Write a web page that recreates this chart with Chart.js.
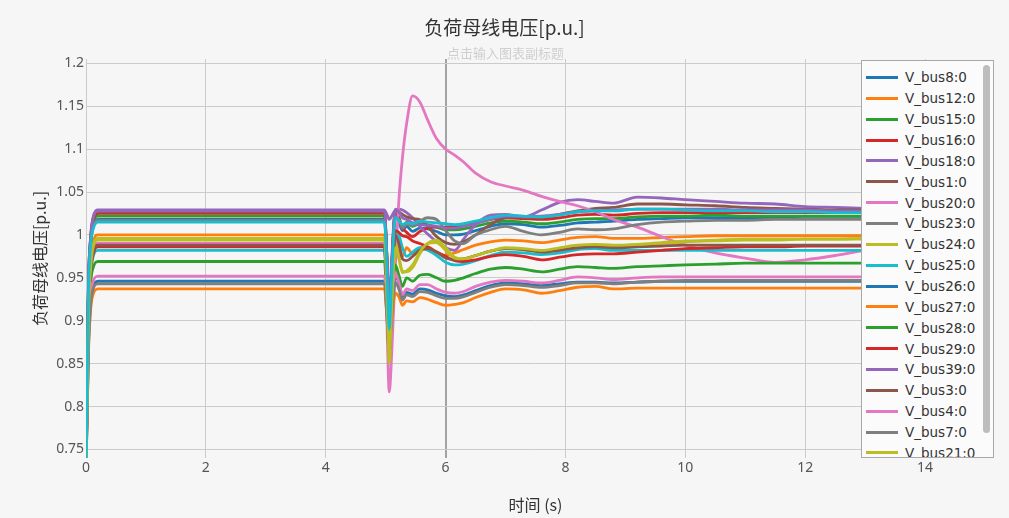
<!DOCTYPE html>
<html><head><meta charset="utf-8">
<script src="https://cdn.jsdelivr.net/npm/chart.js@4/dist/chart.umd.min.js"></script>
<style>
html,body{margin:0;padding:0;background:#f6f6f6;}
#wrap{position:relative;width:1009px;height:518px;overflow:hidden;background:#f6f6f6;}
#c{position:absolute;left:0;top:0;}
#title{position:absolute;left:0;top:15px;width:1009px;text-align:center;font:19px "Noto Sans CJK SC",sans-serif;line-height:24px;color:#333;}
#subtitle{position:absolute;left:0;top:45px;width:1011px;text-align:center;font:13px "Noto Sans CJK SC",sans-serif;line-height:16px;color:#cfcfcf;}
#legend{position:absolute;left:861px;top:60px;width:131px;height:396px;border:1px solid #a8a8a8;background:#fbfbfb;overflow:hidden;}
#legItems{position:absolute;left:0;top:6px;width:120px;}
.li{height:20.87px;display:flex;align-items:center;white-space:nowrap;}
.sw{width:32px;height:3px;margin-left:4px;margin-right:7px;flex:none;}
.tx{font:13.5px "DejaVu Sans",sans-serif;color:#333;}
#thumb{position:absolute;left:121px;top:4px;width:7px;height:368px;border-radius:4px;background:#bdbdbd;}
</style></head>
<body><div id="wrap">
<canvas id="c" width="1009" height="518"></canvas>
<div id="title">负荷母线电压[p.u.]</div>
<div id="subtitle">点击输入图表副标题</div>
<div id="legend"><div id="legItems"></div><div id="thumb"></div></div>
</div>
<script>
const chartTitle = "负荷母线电压[p.u.]";
const xTitle = "时间 (s)";
const yTitle = "负荷母线电压[p.u.]";
const xTicks = [0, 2, 4, 6, 8, 10, 12, 14];
const xTickLabels = ["0", "2", "4", "6", "8", "10", "12", "14"];
const yTicks = [0.75, 0.8, 0.85, 0.9, 0.95, 1, 1.05, 1.1, 1.15, 1.2];
const yTickLabels = ["0.75", "0.8", "0.85", "0.9", "0.95", "1", "1.05", "1.1", "1.15", "1.2"];

const times = [0,0.04,0.08,0.12,0.2,1,2,3,4,4.98,5.02,5.06,5.1,5.16,5.22,5.28,5.35,5.45,5.57,5.7,5.85,6.0,6.15,6.3,6.5,6.75,7.0,7.3,7.6,7.9,8.2,8.5,8.8,9.2,9.6,10,10.5,11,11.5,12,12.5,13,14,15];

const seriesNames = ["V_bus8:0","V_bus12:0","V_bus15:0","V_bus16:0","V_bus18:0","V_bus1:0","V_bus20:0","V_bus23:0","V_bus24:0","V_bus25:0","V_bus26:0","V_bus27:0","V_bus28:0","V_bus29:0","V_bus39:0","V_bus3:0","V_bus4:0","V_bus7:0","V_bus21:0","V_bus22:0"];
const seriesColors = ["#1f77b4","#ff7f0e","#2ca02c","#d62728","#9467bd","#8c564b","#e377c2","#7f7f7f","#bcbd22","#17becf","#1f77b4","#ff7f0e","#2ca02c","#d62728","#9467bd","#8c564b","#e377c2","#7f7f7f","#bcbd22","#17becf"];

const v_bus8  = [0.72,0.93,0.99,1.010,1.018, 1.018,1.018,1.018,1.018,1.018, 0.97,0.90,0.96,1.022,1.015,1.005,1.010,1.004,1.008,1.007, 1.004,1.000,1.000,1.001,1.005,1.010,1.013,1.012,1.009,1.011, 1.014,1.015,1.016,1.018,1.019,1.020,1.020,1.020,1.020,1.019, 1.019,1.019,1.018,1.018];
const v_bus12 = [0.72,0.91,0.97,0.992,1.0, 1.0,1.0,1.0,1.0,1.0, 0.95,0.88,0.94,1.0,0.99,0.975,0.985,0.978,0.985,0.986, 0.98,0.976,0.979,0.983,0.988,0.992,0.994,0.993,0.991,0.994, 0.997,0.998,0.996,0.996,0.997,0.998,0.999,0.999,0.999,0.999, 0.999,0.999,0.999,0.999];
const v_bus15 = [0.72,0.93,0.99,1.014,1.022, 1.022,1.022,1.022,1.022,1.022, 0.975,0.91,0.965,1.025,1.02,1.01,1.015,1.01,1.013,1.012, 1.009,1.006,1.006,1.007,1.01,1.014,1.016,1.015,1.013,1.015, 1.018,1.019,1.019,1.021,1.022,1.022,1.023,1.022,1.022,1.022, 1.022,1.022,1.022,1.022];
const v_bus16 = [0.72,0.935,0.995,1.017,1.025, 1.025,1.025,1.025,1.025,1.025, 0.975,0.90,0.96,1.025,1.02,1.008,1.003,0.998,1.004,1.008, 1.009,1.009,1.010,1.011,1.014,1.018,1.020,1.019,1.018,1.020, 1.023,1.024,1.023,1.025,1.026,1.026,1.026,1.026,1.026,1.026, 1.026,1.026,1.025,1.025];
const v_bus18 = [0.72,0.94,1.0,1.021,1.029, 1.029,1.029,1.029,1.029,1.029, 1.024,1.018,1.022,1.029,1.030,1.029,1.026,1.020,1.010,1.001, 0.992,0.985,0.982,0.995,1.012,1.023,1.024,1.021,1.029,1.038, 1.041,1.039,1.037,1.044,1.043,1.041,1.039,1.037,1.036,1.033, 1.032,1.031,1.030,1.029];
const v_bus1  = [0.72,0.94,0.998,1.019,1.027, 1.027,1.027,1.027,1.027,1.027, 0.975,0.89,0.96,1.028,1.027,1.024,1.021,1.019,1.018,1.010, 0.998,0.991,0.989,0.992,1.0,1.012,1.02,1.021,1.020,1.024, 1.028,1.031,1.032,1.036,1.036,1.035,1.034,1.032,1.031,1.030, 1.029,1.029,1.028,1.027];
const v_bus20 = [0.72,0.90,0.96,0.982,0.99, 0.99,0.99,0.99,0.99,0.99, 0.90,0.817,0.86,0.96,1.04,1.09,1.13,1.162,1.155,1.134, 1.112,1.100,1.093,1.085,1.072,1.062,1.057,1.052,1.045,1.039, 1.034,1.027,1.018,1.009,0.998,0.988,0.979,0.973,0.968,0.971, 0.976,0.982,0.988,0.99];
const v_bus23 = [0.72,0.93,0.99,1.009,1.017, 1.017,1.017,1.017,1.017,1.017, 0.97,0.90,0.955,1.02,1.018,1.008,1.012,1.011,1.016,1.020, 1.018,1.005,0.993,0.99,1.0,1.006,1.01,1.004,1.0,1.003, 1.007,1.006,1.007,1.012,1.015,1.016,1.017,1.017,1.018,1.018, 1.018,1.018,1.017,1.017];
const v_bus24 = [0.72,0.905,0.965,0.988,0.996, 0.996,0.996,0.996,0.996,0.996, 0.93,0.85,0.91,0.99,0.975,0.958,0.957,0.962,0.978,0.99, 0.994,0.985,0.974,0.972,0.976,0.981,0.984,0.983,0.980,0.983, 0.987,0.988,0.985,0.987,0.99,0.992,0.993,0.994,0.994,0.995, 0.995,0.996,0.996,0.996];
const v_bus25 = [0.72,0.895,0.955,0.975,0.982, 0.982,0.982,0.982,0.982,0.982, 0.93,0.88,0.93,1.005,1.0,0.985,0.975,0.98,0.985,0.982, 0.976,0.968,0.965,0.966,0.97,0.976,0.98,0.979,0.977,0.979, 0.983,0.984,0.982,0.982,0.982,0.982,0.982,0.982,0.982,0.982, 0.982,0.982,0.982,0.982];
const v_bus26 = [0.72,0.87,0.925,0.94,0.946, 0.946,0.946,0.946,0.946,0.946, 0.91,0.875,0.91,0.95,0.945,0.928,0.933,0.931,0.937,0.936, 0.932,0.929,0.928,0.93,0.935,0.941,0.944,0.943,0.941,0.943, 0.945,0.945,0.944,0.945,0.946,0.946,0.946,0.946,0.946,0.946, 0.946,0.946,0.946,0.946];
const v_bus27 = [0.72,0.86,0.915,0.931,0.937, 0.937,0.937,0.937,0.937,0.937, 0.905,0.87,0.90,0.932,0.928,0.918,0.923,0.922,0.927,0.925, 0.921,0.918,0.919,0.921,0.927,0.933,0.937,0.936,0.932,0.935, 0.939,0.940,0.937,0.938,0.938,0.938,0.938,0.938,0.938,0.938, 0.938,0.938,0.938,0.938];
const v_bus28 = [0.72,0.885,0.945,0.962,0.969, 0.969,0.969,0.969,0.969,0.969, 0.92,0.87,0.92,0.965,0.953,0.940,0.950,0.946,0.953,0.954, 0.950,0.946,0.947,0.95,0.955,0.96,0.962,0.96,0.957,0.96, 0.963,0.962,0.961,0.963,0.964,0.965,0.966,0.967,0.967,0.967, 0.967,0.967,0.967,0.967];
const v_bus29 = [0.72,0.9,0.958,0.978,0.986, 0.986,0.986,0.986,0.986,0.986, 0.92,0.86,0.92,1.005,1.003,0.999,0.998,0.993,0.99,0.986, 0.98,0.975,0.97,0.969,0.971,0.975,0.977,0.975,0.971,0.974, 0.977,0.978,0.978,0.98,0.982,0.984,0.985,0.986,0.986,0.987, 0.987,0.987,0.987,0.987];
const v_bus39 = [0.72,0.94,0.998,1.02,1.028, 1.028,1.028,1.028,1.028,1.028, 0.975,0.92,0.97,1.03,1.027,1.02,1.018,1.014,1.012,1.011, 1.01,1.008,1.008,1.01,1.013,1.018,1.022,1.021,1.022,1.024, 1.027,1.028,1.029,1.03,1.03,1.03,1.03,1.029,1.029,1.029, 1.028,1.028,1.028,1.028];
const v_bus3  = [0.72,0.9,0.96,0.98,0.988, 0.988,0.988,0.988,0.988,0.988, 0.925,0.86,0.925,1.0,0.99,0.972,0.97,0.975,0.982,0.984, 0.98,0.973,0.971,0.972,0.976,0.981,0.984,0.983,0.98,0.982, 0.985,0.986,0.985,0.986,0.987,0.988,0.988,0.988,0.988,0.988, 0.988,0.988,0.988,0.988];
const v_bus4  = [0.72,0.875,0.93,0.946,0.952, 0.952,0.952,0.952,0.952,0.952, 0.91,0.86,0.91,0.955,0.945,0.930,0.937,0.935,0.942,0.942, 0.937,0.933,0.932,0.934,0.94,0.945,0.947,0.946,0.944,0.947, 0.951,0.950,0.948,0.950,0.951,0.951,0.951,0.951,0.951,0.951, 0.951,0.951,0.951,0.951];
const v_bus7  = [0.72,0.865,0.92,0.937,0.943, 0.943,0.943,0.943,0.943,0.943, 0.905,0.865,0.905,0.945,0.937,0.924,0.93,0.928,0.934,0.933, 0.929,0.926,0.926,0.928,0.933,0.939,0.942,0.941,0.939,0.941, 0.944,0.944,0.943,0.945,0.946,0.947,0.947,0.947,0.947,0.947, 0.947,0.947,0.947,0.947];
const v_bus21 = [0.72,0.905,0.963,0.986,0.994, 0.994,0.994,0.994,0.994,0.994, 0.93,0.855,0.915,0.985,0.972,0.956,0.958,0.965,0.98,0.99, 0.991,0.982,0.973,0.972,0.976,0.981,0.985,0.984,0.982,0.985, 0.988,0.989,0.988,0.989,0.991,0.993,0.994,0.995,0.995,0.995, 0.995,0.995,0.995,0.995];
const v_bus22 = [0.72,0.93,0.99,1.007,1.015, 1.015,1.015,1.015,1.015,1.015, 0.96,0.89,0.95,1.02,1.017,1.012,1.014,1.013,1.016,1.015, 1.014,1.013,1.012,1.013,1.016,1.02,1.023,1.022,1.021,1.023, 1.027,1.028,1.028,1.03,1.03,1.029,1.028,1.028,1.027,1.027, 1.026,1.026,1.026,1.026];

const seriesValues = [v_bus8,v_bus12,v_bus15,v_bus16,v_bus18,v_bus1,v_bus20,v_bus23,v_bus24,v_bus25,v_bus26,v_bus27,v_bus28,v_bus29,v_bus39,v_bus3,v_bus4,v_bus7,v_bus21,v_bus22];

// legend (HTML)
const legEl = document.getElementById('legItems');
seriesNames.forEach((n, i) => {
  const row = document.createElement('div'); row.className = 'li';
  const sw = document.createElement('div'); sw.className = 'sw'; sw.style.background = seriesColors[i];
  const tx = document.createElement('span'); tx.className = 'tx'; tx.textContent = n;
  row.appendChild(sw); row.appendChild(tx); legEl.appendChild(row);
});

const N = seriesNames.length;
const datasets = seriesNames.map((n, i) => ({
  label: n,
  data: times.map((t, k) => ({x: t, y: seriesValues[i][k]})),
  borderColor: seriesColors[i],
  backgroundColor: seriesColors[i],
  borderWidth: 2.8,
  pointRadius: 0,
  fill: false,
  cubicInterpolationMode: 'monotone',
  order: N - 1 - i
}));

new Chart(document.getElementById('c'), {
  type: 'line',
  data: {datasets},
  options: {
    responsive: false,
    animation: false,
    parsing: false,
    events: [],
    layout: {padding: {top: 59, right: 24, bottom: 0, left: 0}},
    plugins: {legend: {display: false}, title: {display: false}, tooltip: {enabled: false}},
    scales: {
      x: {
        type: 'linear', min: 0, max: 15,
        border: {display: false},
        grid: {
          drawTicks: false,
          color: ctx => (ctx.tick && ctx.tick.value === 6) ? '#a3a3a3' : '#cbcbcb',
          lineWidth: ctx => (ctx.tick && ctx.tick.value === 6) ? 2 : 1
        },
        afterBuildTicks: s => { s.ticks = xTicks.map(v => ({value: v})); },
        afterFit: s => { s.height = 60; },
        ticks: {
          autoSkip: false, maxRotation: 0, padding: 2,
          color: '#555', font: {family: 'Noto Sans', size: 14},
          callback: v => xTickLabels[xTicks.indexOf(v)]
        },
        title: {display: true, text: xTitle, color: '#333', font: {family: 'Noto Sans CJK SC', size: 16}, padding: {top: 0, bottom: 3}}
      },
      y: {
        type: 'linear', min: 0.74, max: 1.205,
        border: {display: false},
        grid: {drawTicks: false, color: '#cbcbcb', lineWidth: 1},
        afterBuildTicks: s => { s.ticks = yTicks.map(v => ({value: v})); },
        afterFit: s => { s.width = 86; },
        ticks: {
          autoSkip: false, padding: 2,
          color: '#555', font: {family: 'Noto Sans', size: 14},
          callback: v => yTickLabels[yTicks.indexOf(v)]
        },
        title: {display: true, text: yTitle, color: '#333', font: {family: 'Noto Sans CJK SC', size: 16}, padding: {top: 30, bottom: 0}}
      }
    }
  }
});
</script>
</body></html>
